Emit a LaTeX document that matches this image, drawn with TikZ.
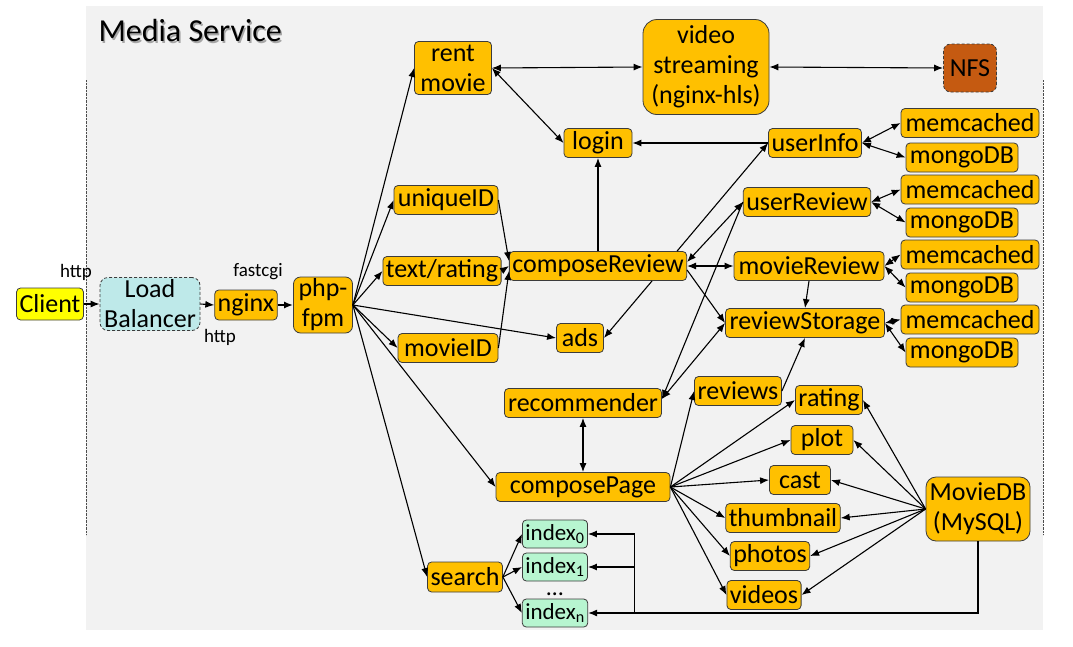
\documentclass[tikz,border=0pt]{standalone}
\usepackage{fontspec}
\setmainfont{Carlito}
\usepackage{xcolor}
\usetikzlibrary{calc,arrows.meta}
\definecolor{mediaorange}{RGB}{255,192,0}
\definecolor{clientyellow}{RGB}{255,255,0}
\definecolor{balancerblue}{RGB}{190,233,233}
\definecolor{nfsbrown}{RGB}{197,90,17}
\definecolor{indexgreen}{RGB}{183,245,208}
\definecolor{canvasgray}{RGB}{242,242,242}
\definecolor{boxborder}{RGB}{60,60,60}
\newcommand{\storagepair}[4]{
  \draw (970,#2) node[svc,minimum width=138pt] (cache#4) {memcached};
  \draw (962,#3) node[svc,minimum width=112pt] (mongo#4) {mongoDB};
  \draw[duplex] (#1.east) -- (cache#4.west);
  \draw[duplex] (#1.east) -- (mongo#4.west);
}
\tikzstyle{svc}=[draw=boxborder,fill=mediaorange,rounded corners=4pt,line width=.8pt,minimum height=29pt,inner xsep=3pt,inner ysep=1pt,align=center,font=\fontsize{26}{30}\selectfont]
\tikzstyle{idx}=[svc,fill=indexgreen,minimum height=28pt,font=\fontsize{23}{26}\selectfont]
\tikzstyle{proto}=[font=\fontsize{19}{22}\selectfont]
\tikzset{call/.style={line width=1.1pt,-{Latex[length=9pt,width=7pt]}}}
\tikzset{duplex/.style={line width=1.1pt,{Latex[length=9pt,width=7pt]}-{Latex[length=9pt,width=7pt]}}}
\tikzset{y=-1pt}
\tikzset{x=1pt}
\begin{document}
\begin{tikzpicture}
  \useasboundingbox (0,0) rectangle (1073,646);
  \fill[canvasgray] (86,6) rectangle (1043,630);
  \draw[densely dotted,black!70] (86,80) -- (86,535);
  \draw[densely dotted,black!70] (1043,80) -- (1043,535);
  \draw (96.5,32.5) node[anchor=west,text=black!35,font=\fontsize{32}{36}\selectfont] (titleShadow) {Media Service};
  \draw (95,31) node[anchor=west,font=\fontsize{32}{36}\selectfont] (title) {Media Service};

  %% Front end
  \draw (50,304) node[svc,fill=clientyellow,minimum width=66pt,minimum height=32pt] (client) {Client};
  \draw (150,304) node[svc,fill=balancerblue,densely dashed,rounded corners=8pt,minimum width=100pt,minimum height=53pt] (balancer) {Load\\Balancer};
  \draw (246,305) node[svc,minimum width=62pt,minimum height=30pt] (nginx) {nginx};
  \draw (323,305) node[svc,rounded corners=7pt,minimum width=59pt,minimum height=56pt] (phpfpm) {php-\\fpm};
  \draw (76,272) node[proto] (httpIn) {http};
  \draw (258,272) node[proto] (fastcgi) {fastcgi};
  \draw (220,337) node[proto] (httpOut) {http};

  %% Services
  \draw (453,68) node[svc,minimum width=77pt,minimum height=53pt] (rentMovie) {rent\\movie};
  \draw (706,67) node[svc,rounded corners=14pt,minimum width=126pt,minimum height=95pt] (videoStreaming) {video\\streaming\\(nginx-hls)};
  \draw (970,68) node[svc,fill=nfsbrown,densely dashed,rounded corners=7pt,minimum width=53pt,minimum height=48pt] (nfs) {NFS};
  \draw (598,143) node[svc,minimum width=68pt] (login) {login};
  \draw (815,143) node[svc,minimum width=93pt] (userInfo) {userInfo};
  \draw (446,200) node[svc,minimum width=104pt] (uniqueID) {uniqueID};
  \draw (807,202) node[svc,minimum width=127pt] (userReview) {userReview};
  \draw (442,271) node[svc,minimum width=117pt] (textRating) {text/rating};
  \draw (598,266) node[svc,minimum width=177pt] (composeReview) {composeReview};
  \draw (809,266) node[svc,minimum width=150pt] (movieReview) {movieReview};
  \draw (805,323) node[svc,minimum width=159pt] (reviewStorage) {reviewStorage};
  \draw (580,338) node[svc,minimum width=47pt] (ads) {ads};
  \draw (448,348) node[svc,minimum width=100pt] (movieID) {movieID};
  \draw (583,403) node[svc,minimum width=157pt] (recommender) {recommender};
  \draw (738,391) node[svc,minimum width=87pt] (reviews) {reviews};
  \draw (829,400) node[svc,minimum width=65pt] (rating) {rating};
  \draw (822,440) node[svc,minimum width=62pt] (plot) {plot};
  \draw (800,480) node[svc,minimum width=61pt] (cast) {cast};
  \draw (583,487) node[svc,minimum width=174pt] (composePage) {composePage};
  \draw (783,518) node[svc,minimum width=114pt] (thumbnail) {thumbnail};
  \draw (978,509) node[svc,rounded corners=10pt,minimum width=104pt,minimum height=64pt] (movieDB) {MovieDB\\(MySQL)};
  \draw (770,556) node[svc,minimum width=77pt] (photos) {photos};
  \draw (764,595) node[svc,minimum width=72pt] (videos) {videos};
  \draw (465,577) node[svc,minimum width=74pt,minimum height=30pt] (search) {search};
  \draw (555,534) node[idx,minimum width=64pt] (index0) {index\textsubscript{0}};
  \draw (555,567) node[idx,minimum width=64pt] (index1) {index\textsubscript{1}};
  \draw (555,594) node[inner sep=0pt,font=\fontsize{24}{26}\selectfont] (indexDots) {\dots};
  \draw (555,613) node[idx,minimum width=64pt] (indexN) {index\textsubscript{n}};

  %% Storage tiers
  \storagepair{userInfo}{123}{157.5}{1}
  \storagepair{userReview}{189.5}{222.5}{2}
  \storagepair{movieReview}{254.5}{287.5}{3}
  \storagepair{reviewStorage}{319.5}{352.5}{4}

  %% Front end links
  \draw[call] (client.east) -- (balancer.west);
  \draw[call] (balancer.east) -- (nginx.west);
  \draw[call,line width=1.6pt] (nginx.east) -- (phpfpm.west);

  %% php-fpm fan out
  \draw[call] (phpfpm.east) -- (rentMovie.west);
  \draw[call] (phpfpm.east) -- (uniqueID.west);
  \draw[call] (phpfpm.east) -- (textRating.west);
  \draw[call] (phpfpm.east) -- (ads.west);
  \draw[call] (phpfpm.east) -- (movieID.west);
  \draw[call] (phpfpm.east) -- (composePage.west);
  \draw[call] (phpfpm.east) -- (search.west);

  %% Reviews path
  \draw[call] (uniqueID.east) -- ($(composeReview.west)+(0,-5)$);
  \draw[call] (textRating.east) -- (composeReview.west);
  \draw[call] (movieID.east) -- ($(composeReview.west)+(0,5)$);
  \draw[call] (composeReview.north) -- (login.south);
  \draw[duplex] (rentMovie.east) -- (login.west);
  \draw[duplex] (rentMovie.east) -- (videoStreaming.west);
  \draw[duplex] (videoStreaming.east) -- (nfs.west);
  \draw[call] (userInfo.west) -- (login.east);
  \draw[call] ($(composeReview.north east)+(-10,0)$) -- (userInfo.west);
  \draw[call] ($(composeReview.south east)+(-35,0)$) -- (ads.east);
  \draw[duplex] ($(composeReview.east)+(0,-4)$) -- (userReview.west);
  \draw[duplex] (composeReview.east) -- (movieReview.west);
  \draw[call] ($(composeReview.east)+(0,4)$) -- (reviewStorage.west);
  \draw[call] (userReview.west) -- ($(recommender.east)+(0,-4)$);
  \draw[duplex] (reviewStorage.west) -- ($(recommender.east)+(0,-4)$);
  \draw[call] (movieReview.south) -- (reviewStorage.north);
  \draw[call] (reviews.east) -- (reviewStorage.south);
  \draw[duplex] (recommender.south) -- (composePage.north);

  %% composePage fan out
  \draw[call] (composePage.east) -- (reviews.west);
  \draw[call] (composePage.east) -- (rating.west);
  \draw[call] (composePage.east) -- (plot.west);
  \draw[call] (composePage.east) -- (cast.west);
  \draw[call] (composePage.east) -- (thumbnail.west);
  \draw[call] (composePage.east) -- (photos.west);
  \draw[call] (composePage.east) -- (videos.west);

  %% MovieDB
  \draw[call] (movieDB.west) -- (rating.east);
  \draw[call] (movieDB.west) -- (plot.east);
  \draw[call] (movieDB.west) -- (cast.east);
  \draw[call] (movieDB.west) -- (thumbnail.east);
  \draw[call] (movieDB.west) -- (photos.east);
  \draw[call] (movieDB.west) -- (videos.east);

  %% Search and indexes
  \draw[call] (search.east) -- (index0.west);
  \draw[call] (search.east) -- (index1.west);
  \draw[call] (search.east) -- (indexN.west);
  \coordinate (bus) at ($(indexN.east)+(46,0)$);
  \draw[call] (movieDB.south) |- (indexN.east);
  \draw[call] (bus) |- (index0.east);
  \draw[call] (bus |- index1.east) -- (index1.east);
\end{tikzpicture}
\end{document}
